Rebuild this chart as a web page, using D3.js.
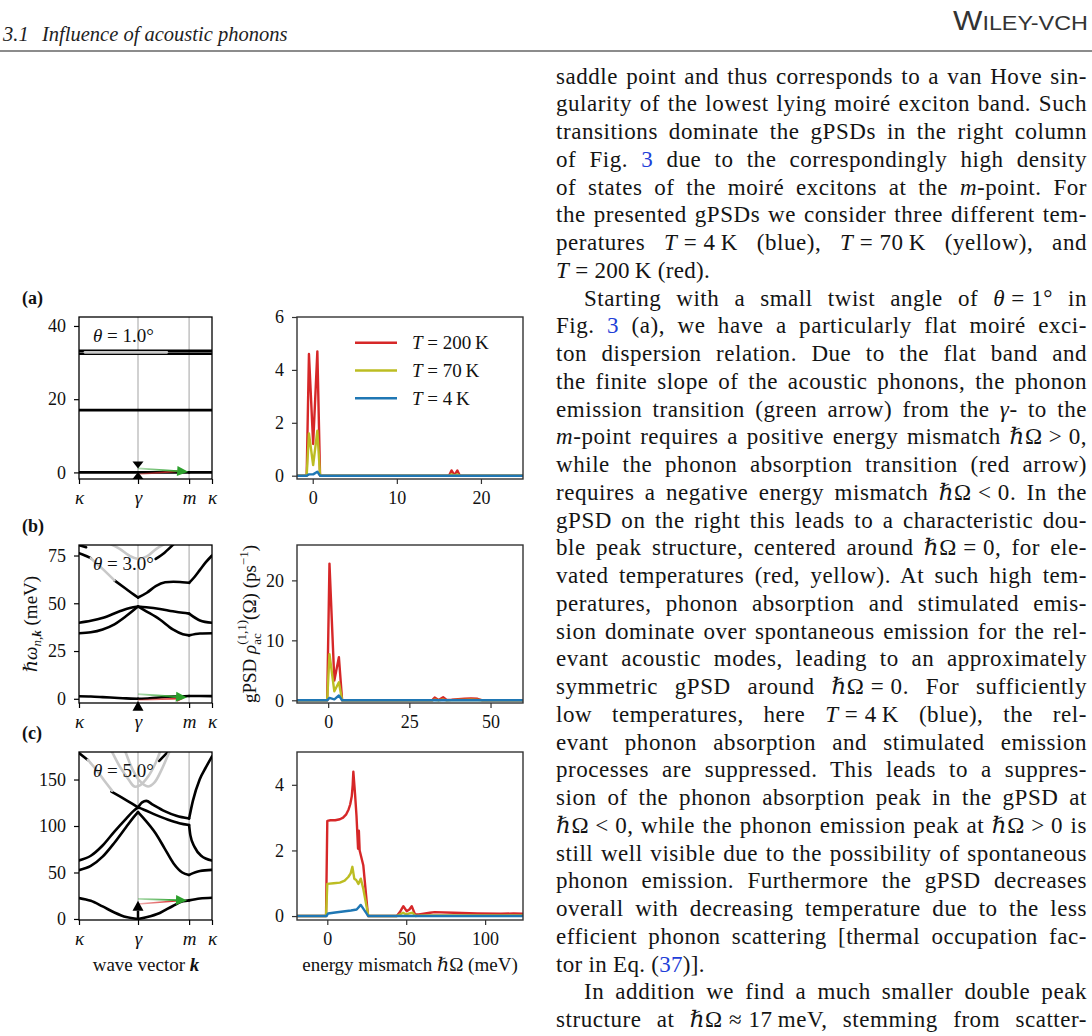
<!DOCTYPE html>
<html>
<head>
<meta charset="utf-8">
<script src="https://cdn.jsdelivr.net/npm/d3@7"></script>
<style>
html,body{margin:0;padding:0;background:#fff;}
body{width:1092px;height:1036px;position:relative;overflow:hidden;}
svg{position:absolute;left:0;top:0;}
.bl{position:absolute;left:556px;width:531px;height:26px;font-family:"Liberation Serif","DejaVu Serif",serif;font-size:23px;line-height:26px;white-space:nowrap;color:#141414;}
.bl a{color:#1f3fd8;text-decoration:none;}
</style>
</head>
<body>
<script>
// ================= DATA =================
const kTickVals = [0, 1, 1.866, 2.254];
const kTickLabels = ["κ", "γ", "m", "κ"];

// ---- (a) theta = 1.0 deg : band energies (k, meV)
const bandA1 = [[0,0],[1,0],[1.866,0],[2.254,0]];
const bandA2 = [[0,17],[2.254,17]];
const bandA3 = [[0,32.4],[2.254,32.4]];
const bandA4 = [[0,33.2],[2.254,33.2]];
const grayA1 = [[0.1,32.8],[1.49,32.8]];
const greenA = [[1,1.1],[1.85,0.15]];
const redA = [[1,-0.5],[1.8,0.5]];
const blackA1 = [[1,-1.8],[1,0.1]];
const blackA2 = [[1,3.0],[1,1.1]];

// ---- (b) theta = 3.0 deg
const bandB1 = [[0,1.3],[0.2,1.2],[0.4,0.9],[0.6,0.55],[0.8,0.2],[1,0],[1.2,0.3],[1.4,0.8],[1.6,1.2],[1.866,1.5],[2.05,1.5],[2.254,1.4]];
const bandB2 = [[0,34.3],[0.2,34.8],[0.4,36.3],[0.6,39],[0.8,43.3],[1,48.3],[1.14,45.8],[1.37,41.5],[1.59,36.3],[1.76,33.8],[1.866,33.2],[2.05,34.2],[2.254,34.3]];
const bandB3 = [[0,39.8],[0.2,40.8],[0.41,42.4],[0.69,45.8],[0.86,47.5],[1,48.3],[1.14,47.9],[1.37,47],[1.59,45.8],[1.76,45],[1.866,44.6],[2.05,41],[2.254,39.8]];
const bandB4 = [[0.6,62],[0.8,57.5],[0.93,54.5],[1,53],[1.15,55.5],[1.3,59],[1.46,61],[1.6,61.3],[1.75,61],[1.866,60.7],[1.95,63.5],[2.05,67.5],[2.15,71.5],[2.254,75]];
const blackB5 = [[0,76.2],[0.1,75],[0.2,73.6]];
const blackB6 = [[0,80.4],[0.12,79.3]];
const blackB7 = [[1.3,73.2],[1.45,76.5],[1.6,80.8]];
const grayB1 = [[0.2,73.6],[0.4,68],[0.6,62]];
const grayB2 = [[0.5,81.5],[0.69,78.5],[0.85,75],[1,73.3],[1.15,74.5],[1.31,78.5],[1.48,81.5]];
const greenB = [[1,2.4],[1.83,0.7]];
const redB = [[1,-0.6],[1.78,0.2]];
const blackB1 = [[1,-6.2],[1,-1.2]];

// ---- (c) theta = 5.0 deg
const bandC1 = [[0,22.5],[0.2,19.5],[0.4,13.5],[0.6,7],[0.8,2],[1,0],[1.14,1.9],[1.37,6.5],[1.59,14],[1.76,19],[1.866,20],[2.05,22],[2.254,22.8]];
const bandC2 = [[0,52.5],[0.2,57],[0.4,67],[0.6,82],[0.8,99],[0.92,109],[1,115],[1.1,108],[1.3,92],[1.45,76],[1.6,60],[1.75,50],[1.866,47.4],[2.05,51.5],[2.254,52.8]];
const bandC3 = [[0,63],[0.2,68],[0.4,79],[0.6,94],[0.8,108],[0.92,116],[1,120],[1.1,117.5],[1.3,112],[1.5,107],[1.7,103],[1.866,101],[1.887,90.2],[1.96,77.3],[2.07,68],[2.254,62.8]];
const bandC4 = [[0.55,137],[0.77,129],[0.9,124],[1,120],[1.07,125.5],[1.14,127],[1.25,123],[1.45,116],[1.65,111],[1.866,108],[1.93,127],[2.045,150],[2.15,163],[2.254,175]];
const blackC5 = [[0,178.5],[0.15,171]];
const blackC6 = [[1.36,170],[1.45,176],[1.52,180]];
const grayC1 = [[0.15,171],[0.3,160],[0.45,147],[0.56,138]];
const grayC2 = [[0.55,181],[0.7,163],[0.84,150],[0.94,142.5],[1.04,144],[1.18,154],[1.3,168],[1.38,181]];
const grayC3 = [[0.78,181],[0.9,162],[1.02,149],[1.17,142.5],[1.28,147],[1.38,158],[1.48,172],[1.54,181]];
const greenC = [[1,21.6],[1.83,19.9]];
const redC = [[1,16.1],[1.8,20.2]];
const blackC1 = [[1,0],[1,19.5]];

// ---- gPSD spectra (energy mismatch meV, ps^-1)
const psdA_x    = [-1.87,-0.72,-0.45,0.05,0.55,0.87,16.2,16.5,16.85,17.2,17.5,25];
const psdA_red  = [0,0,4.6,1.2,4.7,0,0,0.2,0.02,0.2,0,0];
const psdA_yel  = [0,0,1.6,0.4,1.7,0,0,0.05,0,0.05,0,0];
const psdA_blue = [0,0,0.05,0.05,0.15,0,0,0,0,0,0,0];

const psdB_x    = [-9.6,-0.3,0.4,1.9,3.3,4.3,32,32.8,34,35.4,36.5,38,40,42,44,46,47.5,60];
const psdB_red  = [0,0,22.8,3.3,7.2,0,0,0.45,0.05,0.5,0.05,0.1,0.2,0.25,0.3,0.25,0,0];
const psdB_yel  = [0,0,7.7,1.5,3.0,0,0,0.1,0,0.12,0,0.03,0.05,0.06,0.08,0.06,0,0];
const psdB_blue = [0,0,0.4,0.15,0.8,0,0,0,0,0,0,0,0,0,0,0,0,0];

const psdC_xr   = [-19.2,-0.8,0,2,5,8,10,12,13.5,14.5,15.5,16.1,16.5,17.6,18.5,19.5,20,20.5,22.8,25.8,44,46,48.2,50.3,52,53.5,55.6,58,65,68,80,95,110,118,124];
const psdC_red  = [0,0,2.9,2.92,2.92,2.95,3.0,3.1,3.25,3.4,3.65,4.0,4.4,3.7,3.05,2.05,2.6,2.0,1.55,0,0,0.12,0.3,0.15,0.2,0.3,0.05,0.05,0.1,0.12,0.1,0.08,0.07,0.08,0.07];
const psdC_xy   = [-19.2,-0.8,0,4,8,11,13.3,14.8,15.9,17.1,18.3,19.7,21.2,22.8,26,44,48,50,52,54,56,60,124];
const psdC_yel  = [0,0,0.98,1.0,1.02,1.08,1.19,1.3,1.5,1.14,1.1,0.98,1.14,0.83,0,0,0.1,0.05,0.08,0.1,0,0.02,0.02];
const psdC_xb   = [-19.2,-0.5,0.5,5,10,15,18.6,21.2,26,124];
const psdC_blue = [0,0,0.08,0.11,0.14,0.17,0.2,0.34,0,0];

const legendTemps = ["200","70","4"];
const psdColors = ["#d62728","#bcbd22","#1f77b4"];

// ---- body text
const bodyLines = [
 "saddle point and thus corresponds to a van Hove sin-",
 "gularity of the lowest lying moiré exciton band. Such",
 "transitions dominate the gPSDs in the right column",
 "of Fig. <a>3</a> due to the correspondingly high density",
 "of states of the moiré excitons at the <i>m</i>-point. For",
 "the presented gPSDs we consider three different tem-",
 "peratures <i>T</i>\u2005=\u20054\u2009K (blue), <i>T</i>\u2005=\u200570\u2009K (yellow), and",
 "<i>T</i>\u2005=\u2005200\u2009K (red).",
 "Starting with a small twist angle of <i>θ</i>\u2005=\u20051° in",
 "Fig. <a>3</a> (a), we have a particularly flat moiré exci-",
 "ton dispersion relation. Due to the flat band and",
 "the finite slope of the acoustic phonons, the phonon",
 "emission transition (green arrow) from the <i>γ</i>- to the",
 "<i>m</i>-point requires a positive energy mismatch <i>ℏ</i>Ω\u2005&gt;\u20050,",
 "while the phonon absorption transition (red arrow)",
 "requires a negative energy mismatch <i>ℏ</i>Ω\u2005&lt;\u20050. In the",
 "gPSD on the right this leads to a characteristic dou-",
 "ble peak structure, centered around <i>ℏ</i>Ω\u2005=\u20050, for ele-",
 "vated temperatures (red, yellow). At such high tem-",
 "peratures, phonon absorption and stimulated emis-",
 "sion dominate over spontaneous emission for the rel-",
 "evant acoustic modes, leading to an approximately",
 "symmetric gPSD around <i>ℏ</i>Ω\u2005=\u20050. For sufficiently",
 "low temperatures, here <i>T</i>\u2005=\u20054\u2009K (blue), the rel-",
 "evant phonon absorption and stimulated emission",
 "processes are suppressed. This leads to a suppres-",
 "sion of the phonon absorption peak in the gPSD at",
 "<i>ℏ</i>Ω\u2005&lt;\u20050, while the phonon emission peak at <i>ℏ</i>Ω\u2005&gt;\u20050 is",
 "still well visible due to the possibility of spontaneous",
 "phonon emission. Furthermore the gPSD decreases",
 "overall with decreasing temperature due to the less",
 "efficient phonon scattering [thermal occupation fac-",
 "tor in Eq. (<a>37</a>)].",
 "In addition we find a much smaller double peak",
 "structure at <i>ℏ</i>Ω\u2005≈\u200517\u2009meV, stemming from scatter-"
];
const lastLineIdx = [7, 32];
const indentIdx = [8, 33];

// ================= LAYOUT =================
const W = 1092, H = 1036;
const FONT = '"Liberation Serif","DejaVu Serif",serif';
const textCenter0 = 79, textStep = 27.75, textWidth = 531, textIndent = 28;

const svg = d3.select("body").append("svg").attr("width", W).attr("height", H);
const defs = svg.append("defs");

// header
svg.append("text").attr("x", 3).attr("y", 41).attr("font-family", FONT).attr("font-style", "italic")
  .attr("font-size", 20.5).attr("fill", "#222").text("3.1");
svg.append("text").attr("x", 42).attr("y", 41).attr("font-family", FONT).attr("font-style", "italic")
  .attr("font-size", 20.5).attr("fill", "#222").text("Influence of acoustic phonons");
const wil = svg.append("text").attr("x", 953).attr("y", 30)
  .attr("font-family", '"Liberation Sans Narrow","Liberation Sans",sans-serif').attr("fill", "#333");
wil.append("tspan").attr("font-size", 28).text("W");
wil.append("tspan").attr("font-size", 21).text("ILEY-VCH");
const ww = wil.node().getComputedTextLength();
wil.attr("transform", `translate(953,0) scale(${135/ww},1) translate(-953,0)`);
svg.append("line").attr("x1", 0).attr("x2", W).attr("y1", 51).attr("y2", 51).attr("stroke", "#666").attr("stroke-width", 1.5);

// ================= HELPERS =================
const xk = d3.scaleLinear().domain([0, 2.254]).range([79, 212]);
let gradId = 0;

function splitSegments(pts) {
  const segs = []; let cur = [];
  pts.forEach(p => {
    cur.push(p);
    if ((p[0] === kTickVals[1] || p[0] === kTickVals[2]) && cur.length > 1) { segs.push(cur); cur = [p]; }
  });
  if (cur.length > 1) segs.push(cur);
  return segs;
}

function drawArrow(g, p0, p1, x, y, color, sw, L, Wd, fade) {
  const x0 = x(p0[0]), y0 = y(p0[1]), x1 = x(p1[0]), y1 = y(p1[1]);
  const dx = x1 - x0, dy = y1 - y0, len = Math.hypot(dx, dy);
  const ux = dx / len, uy = dy / len;
  const hl = Math.min(L, len);
  const bx = x1 - ux * hl, by = y1 - uy * hl;
  if (len > hl + 0.5) {
    let stroke = color;
    if (fade) {
      const id = "grad" + (gradId++);
      const lg = defs.append("linearGradient").attr("id", id).attr("gradientUnits", "userSpaceOnUse")
        .attr("x1", x0).attr("y1", y0).attr("x2", bx).attr("y2", by);
      lg.append("stop").attr("offset", "0").attr("stop-color", color).attr("stop-opacity", 0.35);
      lg.append("stop").attr("offset", "1").attr("stop-color", color).attr("stop-opacity", 1);
      stroke = `url(#${id})`;
    }
    g.append("line").attr("x1", x0).attr("y1", y0).attr("x2", bx).attr("y2", by)
      .attr("stroke", stroke).attr("stroke-width", sw);
  }
  g.append("path").attr("d", `M${x1},${y1}L${bx - uy * Wd / 2},${by + ux * Wd / 2}L${bx + uy * Wd / 2},${by - ux * Wd / 2}Z`)
    .attr("fill", color);
}

function styleAxis(ax, col) {
  ax.select(".domain").remove();
  ax.selectAll(".tick line").attr("stroke", col).attr("stroke-width", 1.2);
  ax.selectAll(".tick text").attr("font-family", FONT).attr("font-size", 18).attr("fill", "#111");
}

// ================= BAND PANELS =================
function drawBandPanel(c) {
  const y = d3.scaleLinear().domain(c.yDom).range([c.bottom, c.top]);
  const g = svg.append("g");
  const cid = "clipB" + c.key;
  defs.append("clipPath").attr("id", cid).append("rect")
    .attr("x", xk.range()[0]).attr("y", c.top).attr("width", xk.range()[1] - xk.range()[0]).attr("height", c.bottom - c.top);
  g.selectAll("line.vl").data([kTickVals[1], kTickVals[2]]).join("line").attr("class", "vl")
    .attr("x1", d => xk(d)).attr("x2", d => xk(d)).attr("y1", c.top).attr("y2", c.bottom)
    .attr("stroke", "#b8b8b8").attr("stroke-width", 1.3);
  const inner = g.append("g").attr("clip-path", `url(#${cid})`);
  const seg = d3.line().x(d => xk(d[0])).y(d => y(d[1])).curve(d3.curveMonotoneX);
  const smooth = d3.line().x(d => xk(d[0])).y(d => y(d[1])).curve(d3.curveCatmullRom.alpha(0.5));
  c.black.forEach(b => splitSegments(b).forEach(s => {
    inner.append("path").attr("d", seg(s)).attr("fill", "none").attr("stroke", "#000")
      .attr("stroke-width", 2.6).attr("stroke-linecap", "round").attr("stroke-linejoin", "round");
  }));
  c.blackSmooth.forEach(b => inner.append("path").attr("d", smooth(b)).attr("fill", "none")
    .attr("stroke", "#000").attr("stroke-width", 2.6).attr("stroke-linecap", "round"));
  c.gray.forEach(b => inner.append("path").attr("d", smooth(b)).attr("fill", "none")
    .attr("stroke", "#c8c8c8").attr("stroke-width", 2.6).attr("stroke-linecap", "round"));
  g.append("rect").attr("x", xk.range()[0]).attr("y", c.top).attr("width", xk.range()[1] - xk.range()[0])
    .attr("height", c.bottom - c.top).attr("fill", "none").attr("stroke", "#000").attr("stroke-width", 1.3);
  const ya = g.append("g").attr("transform", `translate(${xk.range()[0]},0)`)
    .call(d3.axisLeft(y).tickValues(c.yTicks).tickSize(5).tickPadding(8).tickFormat(d3.format("d")));
  styleAxis(ya, "#000");
  const xa = g.append("g").attr("transform", `translate(0,${c.bottom})`)
    .call(d3.axisBottom(xk).tickValues(kTickVals).tickSize(5).tickPadding(7).tickFormat((d, i) => kTickLabels[i]));
  styleAxis(xa, "#000");
  xa.selectAll(".tick text").attr("font-style", "italic").attr("font-size", 19);
  drawArrow(g, c.red[0], c.red[1], xk, y, "#d62728", 1.6, 7, 6, true);
  drawArrow(g, c.green[0], c.green[1], xk, y, "#2ca02c", 1.8, 11, 10, true);
  c.blackArrows.forEach(a => drawArrow(g, a[0], a[1], xk, y, "#000", 2.5, 10, 11, false));
  const th = g.append("text").attr("x", 93).attr("y", c.top + 25).attr("font-family", FONT).attr("font-size", 19).attr("fill", "#111");
  th.append("tspan").attr("font-style", "italic").text("θ");
  th.append("tspan").text("\u2005=\u2005" + c.theta + "°");
  svg.append("text").attr("x", 22).attr("y", c.top - 13).attr("font-family", FONT).attr("font-weight", "bold")
    .attr("font-size", 18).attr("fill", "#111").text(c.letter);
}

// ================= gPSD PANELS =================
function drawPsdPanel(c) {
  const x = d3.scaleLinear().domain(c.xDom).range([297, 523]);
  const y = d3.scaleLinear().domain(c.yDom).range([c.bottom, c.top]);
  const g = svg.append("g");
  const cid = "clipP" + c.key;
  defs.append("clipPath").attr("id", cid).append("rect").attr("x", 297).attr("y", c.top).attr("width", 226).attr("height", c.bottom - c.top);
  const inner = g.append("g").attr("clip-path", `url(#${cid})`);
  const ln = d3.line().x(d => x(d[0])).y(d => y(d[1]));
  c.series.forEach((s, i) => {
    const pts = s[0].map((xv, j) => [xv, s[1][j]]);
    inner.append("path").attr("d", ln(pts)).attr("fill", "none").attr("stroke", psdColors[i])
      .attr("stroke-width", 2.4).attr("stroke-linejoin", "round").attr("stroke-linecap", "round");
  });
  g.append("rect").attr("x", 297).attr("y", c.top).attr("width", 226).attr("height", c.bottom - c.top)
    .attr("fill", "none").attr("stroke", "#333").attr("stroke-width", 1.4);
  const ya = g.append("g").attr("transform", "translate(297,0)")
    .call(d3.axisLeft(y).tickValues(c.yTicks).tickSize(5).tickPadding(8).tickFormat(d3.format("d")));
  styleAxis(ya, "#333");
  const xa = g.append("g").attr("transform", `translate(0,${c.bottom})`)
    .call(d3.axisBottom(x).tickValues(c.xTicks).tickSize(5).tickPadding(7).tickFormat(d3.format("d")));
  styleAxis(xa, "#333");
  if (c.legend) {
    legendTemps.forEach((t, i) => {
      const ly = c.top + 25.7 + i * 27.8;
      g.append("line").attr("x1", 355).attr("x2", 397).attr("y1", ly).attr("y2", ly)
        .attr("stroke", psdColors[i]).attr("stroke-width", 2.4);
      const tx = g.append("text").attr("x", 412).attr("y", ly + 6.5).attr("font-family", FONT).attr("font-size", 19).attr("fill", "#111");
      tx.append("tspan").attr("font-style", "italic").text("T");
      tx.append("tspan").text("\u2005=\u2005" + t + "\u2009K");
    });
  }
}

const bandPanels = [
  {key: "a", letter: "(a)", top: 317, bottom: 479, yDom: [-1.8, 42.45], yTicks: [0, 20, 40], theta: "1.0",
   black: [bandA1, bandA2, bandA3, bandA4], blackSmooth: [], gray: [grayA1],
   green: greenA, red: redA, blackArrows: [blackA1, blackA2]},
  {key: "b", letter: "(b)", top: 545, bottom: 703, yDom: [-2.2, 80.5], yTicks: [0, 25, 50, 75], theta: "3.0",
   black: [bandB1, bandB2, bandB3, bandB4], blackSmooth: [blackB5, blackB6, blackB7], gray: [grayB1, grayB2],
   green: greenB, red: redB, blackArrows: [blackB1]},
  {key: "c", letter: "(c)", top: 752, bottom: 920, yDom: [-1.1, 179.6], yTicks: [0, 50, 100, 150], theta: "5.0",
   black: [bandC1, bandC2, bandC3, bandC4], blackSmooth: [blackC5, blackC6], gray: [grayC1, grayC2, grayC3],
   green: greenC, red: redC, blackArrows: [blackC1]}
];
bandPanels.forEach(drawBandPanel);

const psdPanels = [
  {key: "a", top: 317, bottom: 479, xDom: [-1.87, 25], yDom: [-0.125, 6], xTicks: [0, 10, 20], yTicks: [0, 2, 4, 6], legend: true,
   series: [[psdA_x, psdA_red], [psdA_x, psdA_yel], [psdA_x, psdA_blue]]},
  {key: "b", top: 545, bottom: 703, xDom: [-9.6, 60], yDom: [-0.45, 25.9], xTicks: [0, 25, 50], yTicks: [0, 10, 20], legend: false,
   series: [[psdB_x, psdB_red], [psdB_x, psdB_yel], [psdB_x, psdB_blue]]},
  {key: "c", top: 752, bottom: 920, xDom: [-19.2, 124], yDom: [-0.12, 5], xTicks: [0, 50, 100], yTicks: [0, 2, 4], legend: false,
   series: [[psdC_xr, psdC_red], [psdC_xy, psdC_yel], [psdC_xb, psdC_blue]]}
];
psdPanels.forEach(drawPsdPanel);

// axis titles
const yl = svg.append("text").attr("transform", "translate(37,624) rotate(-90)").attr("text-anchor", "middle")
  .attr("font-family", FONT).attr("font-size", 19).attr("fill", "#111");
yl.append("tspan").attr("font-style", "italic").text("ℏω");
yl.append("tspan").attr("font-style", "italic").attr("font-size", 13).attr("dy", 4).text("n,");
yl.append("tspan").attr("font-style", "italic").attr("font-weight", "bold").attr("font-size", 13).text("k");
yl.append("tspan").attr("dy", -4).text(" (meV)");

const pl = svg.append("text").attr("transform", "translate(256,624) rotate(-90)").attr("text-anchor", "middle")
  .attr("font-family", FONT).attr("font-size", 19).attr("fill", "#111");
pl.append("tspan").text("gPSD ");
pl.append("tspan").attr("font-style", "italic").text("ρ");
const acT = pl.append("tspan").attr("font-size", 13).attr("dy", 5).text("ac");
const supT = pl.append("tspan").attr("font-size", 13).attr("dy", -15).text("(1,1)");
pl.append("tspan").attr("dy", 10).text("(Ω) (ps");
pl.append("tspan").attr("font-size", 13).attr("dy", -8).text("−1");
pl.append("tspan").attr("dy", 8).text(")");
supT.attr("dx", -acT.node().getComputedTextLength());

const xl1 = svg.append("text").attr("x", 146).attr("y", 971).attr("text-anchor", "middle")
  .attr("font-family", FONT).attr("font-size", 19).attr("fill", "#111");
xl1.append("tspan").text("wave vector ");
xl1.append("tspan").attr("font-style", "italic").attr("font-weight", "bold").text("k");
const xl2 = svg.append("text").attr("x", 410).attr("y", 971).attr("text-anchor", "middle")
  .attr("font-family", FONT).attr("font-size", 19).attr("fill", "#111");
xl2.append("tspan").text("energy mismatch ");
xl2.append("tspan").attr("font-style", "italic").text("ℏ");
xl2.append("tspan").text("Ω (meV)");

// ================= BODY TEXT =================
d3.select("body").selectAll("div.bl").data(bodyLines).join("div").attr("class", "bl")
  .style("top", (d, i) => (textCenter0 + i * textStep - 15.5) + "px")
  .each(function (d, i) {
    const ind = indentIdx.includes(i) ? textIndent : 0;
    const span = d3.select(this).append("span").style("display", "inline-block")
      .style("margin-left", ind + "px").html(d);
    const node = span.node();
    const nChars = node.textContent.length;
    let w = node.getBoundingClientRect().width;
    const target = textWidth - ind;
    let ls = 0.3;
    if (!lastLineIdx.includes(i) && w < target) ls = Math.min(0.55, 0.3 + 0.35 * (target - w) / nChars);
    span.style("letter-spacing", ls + "px");
    if (!lastLineIdx.includes(i)) {
      w = node.getBoundingClientRect().width;
      const n = (node.textContent.match(/ /g) || []).length;
      if (n > 0) span.style("word-spacing", ((target - w) / n) + "px");
    }
  });
</script>
</body>
</html>
